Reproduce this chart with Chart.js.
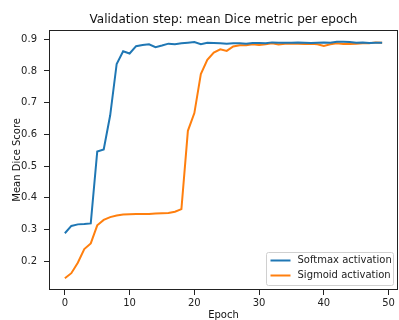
<!DOCTYPE html>
<html>
<head>
<meta charset="utf-8">
<script src="https://cdn.jsdelivr.net/npm/chart.js@4.4.1/dist/chart.umd.min.js"></script>
<style>
  body { margin: 0; background: #fff; }
  #wrap { width: 399px; height: 320px; }
</style>
</head>
<body>
<div id="wrap"><canvas id="diceChart" width="399" height="320"></canvas></div>
<script>
// 数据：每个 epoch 的验证 Dice 值
const epochs = [0, 1, 2, 3, 4, 5, 6, 7, 8, 9, 10, 11, 12, 13, 14, 15, 16, 17, 18, 19,
    20, 21, 22, 23, 24, 25, 26, 27, 28, 29, 30, 31, 32, 33, 34, 35, 36, 37, 38, 39,
    40, 41, 42, 43, 44, 45, 46, 47, 48, 49];

const softmaxDice = [0.288, 0.311, 0.316, 0.317, 0.319, 0.546, 0.552, 0.660, 0.822, 0.862,
    0.855, 0.878, 0.882, 0.884, 0.875, 0.880, 0.886, 0.884, 0.887, 0.889,
    0.891, 0.884, 0.889, 0.888, 0.887, 0.886, 0.887, 0.887, 0.886, 0.888,
    0.888, 0.887, 0.890, 0.889, 0.889, 0.889, 0.890, 0.889, 0.888, 0.889,
    0.890, 0.889, 0.892, 0.892, 0.891, 0.889, 0.890, 0.888, 0.889, 0.889];

const sigmoidDice = [0.146, 0.162, 0.195, 0.238, 0.256, 0.313, 0.330, 0.339, 0.344, 0.347,
    0.348, 0.349, 0.349, 0.349, 0.350, 0.351, 0.352, 0.356, 0.364, 0.611,
    0.667, 0.790, 0.835, 0.858, 0.868, 0.863, 0.877, 0.881, 0.881, 0.884,
    0.882, 0.884, 0.887, 0.883, 0.886, 0.886, 0.886, 0.885, 0.886, 0.884,
    0.879, 0.884, 0.887, 0.885, 0.885, 0.886, 0.887, 0.887, 0.890, 0.889];

const xTicks = [0, 10, 20, 30, 40, 50];
const yTicks = [0.2, 0.3, 0.4, 0.5, 0.6, 0.7, 0.8, 0.9];
const seriesNames = ['Softmax activation', 'Sigmoid activation'];
const seriesColors = ['#1f77b4', '#ff7f0e'];
const chartTitle = 'Validation step: mean Dice metric per epoch';

const FONT = "'DejaVu Sans', 'Liberation Sans', sans-serif";

/**
 * 画四周边框和标题（标题按绘图区居中，matplotlib 风格）
 */
const framePlugin = {
    id: 'frame',
    afterDatasetsDraw(chart) {
        const { ctx, chartArea: a } = chart;
        ctx.save();
        ctx.strokeStyle = '#222';
        ctx.lineWidth = 1;
        ctx.strokeRect(Math.round(a.left) + 0.5, Math.round(a.top) + 0.5,
            Math.round(a.right - a.left) - 1, Math.round(a.bottom - a.top) - 1);

        ctx.font = '12px ' + FONT;
        ctx.fillStyle = '#111';
        ctx.textAlign = 'center';
        ctx.textBaseline = 'alphabetic';
        ctx.fillText(chartTitle, (a.left + a.right) / 2, a.top - 6.3);
        ctx.restore();
    }
};

/**
 * 图内右下角图例
 */
const legendPlugin = {
    id: 'innerLegend',
    afterDraw(chart) {
        const { ctx, chartArea: a } = chart;
        const w = 127, h = 33;
        const x = a.right - 4.5 - w;
        const y = a.bottom - 4.5 - h;
        ctx.save();
        ctx.beginPath();
        ctx.roundRect(x, y, w, h, 2);
        ctx.fillStyle = 'rgba(255,255,255,0.8)';
        ctx.fill();
        ctx.strokeStyle = '#d0d0d0';
        ctx.lineWidth = 1;
        ctx.stroke();
        ctx.font = '10px ' + FONT;
        ctx.textBaseline = 'middle';
        ctx.textAlign = 'left';
        chart.data.datasets.forEach((ds, i) => {
            const ly = y + 8 + i * 15;
            ctx.beginPath();
            ctx.moveTo(x + 4, ly);
            ctx.lineTo(x + 24, ly);
            ctx.strokeStyle = ds.borderColor;
            ctx.lineWidth = 2;
            ctx.stroke();
            ctx.fillStyle = '#222';
            ctx.fillText(ds.label, x + 31, ly);
        });
        ctx.restore();
    }
};

function makeSeries(values) {
    return epochs.map((e, i) => ({ x: e, y: values[i] }));
}

new Chart(document.getElementById('diceChart'), {
    type: 'line',
    data: {
        datasets: [
            {
                label: seriesNames[0],
                data: makeSeries(softmaxDice),
                borderColor: seriesColors[0],
                backgroundColor: seriesColors[0],
                borderWidth: 2,
                pointRadius: 0,
                tension: 0
            },
            {
                label: seriesNames[1],
                data: makeSeries(sigmoidDice),
                borderColor: seriesColors[1],
                backgroundColor: seriesColors[1],
                borderWidth: 2,
                pointRadius: 0,
                tension: 0
            }
        ]
    },
    options: {
        responsive: false,
        animation: false,
        devicePixelRatio: 1,
        layout: { padding: { left: 0, right: 1, top: 29.7, bottom: 0 } },
        plugins: {
            legend: { display: false },
            tooltip: { enabled: false },
            title: { display: false }
        },
        scales: {
            x: {
                type: 'linear',
                min: -2.45,
                max: 51.45,
                afterBuildTicks: scale => { scale.ticks = xTicks.map(v => ({ value: v })); },
                afterFit: scale => { scale.height = 30; },
                border: { display: false },
                grid: { drawOnChartArea: false, drawTicks: true, tickLength: 5, color: '#222' },
                ticks: { color: '#222', font: { family: FONT, size: 10 }, padding: 2, maxRotation: 0 },
                title: {
                    display: true,
                    text: 'Epoch',
                    color: '#111',
                    font: { family: FONT, size: 10, lineHeight: 1 },
                    padding: { top: 0, bottom: 0 }
                }
            },
            y: {
                type: 'linear',
                min: 0.109,
                max: 0.930,
                afterBuildTicks: scale => { scale.ticks = yTicks.map(v => ({ value: v })); },
                afterFit: scale => { scale.width = 49; },
                border: { display: false },
                grid: { drawOnChartArea: false, drawTicks: true, tickLength: 5, color: '#222' },
                ticks: {
                    color: '#222',
                    font: { family: FONT, size: 10 },
                    padding: 7,
                    callback: v => v.toFixed(1)
                },
                title: {
                    display: true,
                    text: 'Mean Dice Score',
                    color: '#111',
                    font: { family: FONT, size: 10, lineHeight: 1 },
                    padding: { top: 12, bottom: 0 }
                }
            }
        }
    },
    plugins: [framePlugin, legendPlugin]
});
</script>
</body>
</html>
